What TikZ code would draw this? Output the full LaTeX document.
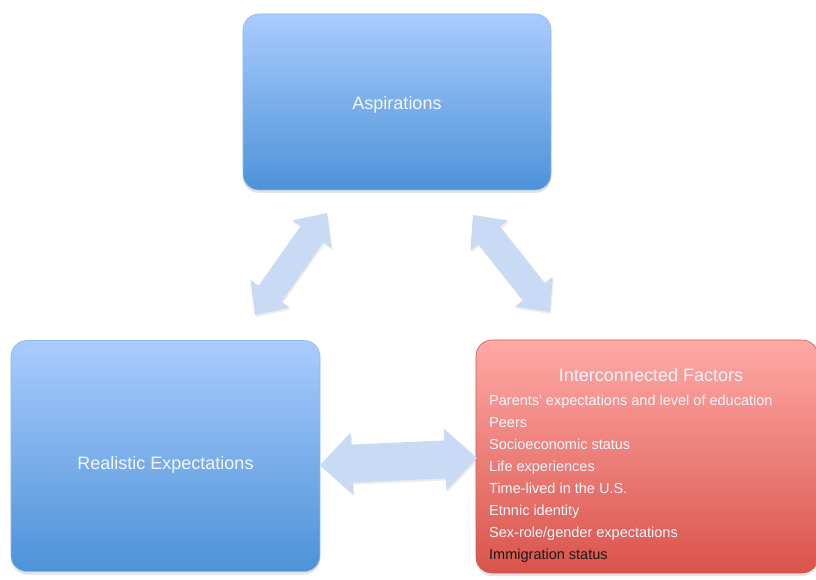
\documentclass[tikz,border=0pt]{standalone}
\usepackage{fontspec}
\setmainfont{Liberation Sans}
\usetikzlibrary{calc,shadows}
\definecolor{btop}{HTML}{A9CCFE}
\definecolor{bbot}{HTML}{4D92D8}
\definecolor{bedge}{HTML}{8DB6EC}
\definecolor{rtop}{HTML}{FFA9A6}
\definecolor{rbot}{HTML}{D9544B}
\definecolor{redge}{HTML}{C95B55}
\definecolor{arrfill}{HTML}{C8DAF4}
\definecolor{boxtext}{HTML}{F4F7FF}
\newcommand\blockarrow[5]{%
  \path ($(#1)!#5!(#2)$) coordinate (h1) ($(#2)!#5!(#1)$) coordinate (h2);
  \fill[arrowshape] (#1) -- ($(h1)!#4!90:(#2)$) -- ($(h1)!#3!90:(#2)$)
    -- ($(h2)!#3!-90:(#1)$) -- ($(h2)!#4!-90:(#1)$) -- (#2)
    -- ($(h2)!#4!90:(#1)$) -- ($(h2)!#3!90:(#1)$)
    -- ($(h1)!#3!-90:(#2)$) -- ($(h1)!#4!-90:(#2)$) -- cycle;}
\begin{document}
\begin{tikzpicture}[x=1pt,y=-1pt,
  boxbase/.style={rounded corners=16pt, line width=0.6pt, inner sep=0pt,
    drop shadow={opacity=0.22, shadow xshift=0pt, shadow yshift=-3pt}},
  bluebox/.style={boxbase, draw=bedge, top color=btop, bottom color=bbot},
  redbox/.style={boxbase, draw=redge, top color=rtop, bottom color=rbot},
  bigtext/.style={text=boxtext, font=\fontsize{18}{22}\selectfont, inner sep=0pt},
  item/.style={text=boxtext, font=\fontsize{14.5}{18}\selectfont, inner sep=0pt, anchor=base west},
  arrowshape/.style={fill=arrfill, drop shadow={opacity=0.15, shadow xshift=1pt, shadow yshift=-2pt}}]
\useasboundingbox (0,0) rectangle (816,580);
\fill[white] (0,0) rectangle (816,580);

% boxes
\node[bluebox, minimum width=308pt, minimum height=176pt] (asp) at (397,102) {};
\node[bluebox, minimum width=309pt, minimum height=231pt] (real) at (165.5,456) {};
\node[redbox, minimum width=342pt, minimum height=233pt] (fact) at (647,456.5) {};

% texts
\node[bigtext, anchor=base] (asptxt) at (397,109.5) {Aspirations};
\node[bigtext, anchor=base] (realtxt) at (165.5,469.5) {Realistic Expectations};
\node[bigtext, anchor=base] (facttxt) at (651,381.5) {Interconnected Factors};
\node[item] (f1) at (489,405) {Parents\textquotesingle\ expectations and level of education};
\node[item] (f2) at (489,427) {Peers};
\node[item] (f3) at (489,449) {Socioeconomic status};
\node[item] (f4) at (489,471) {Life experiences};
\node[item] (f5) at (489,493) {Time-lived in the U.S.};
\node[item] (f6) at (489,515) {Etnnic identity};
\node[item] (f7) at (489,537) {Sex-role/gender expectations};
\node[item, text=black!90] (f8) at (489,559) {Immigration status};

% connectors (double block arrows)
\coordinate (a1s) at (255,315);
\coordinate (a1e) at (327,213);
\coordinate (a2s) at (473,215);
\coordinate (a2e) at (550,312);
\coordinate (a3s) at (320,465);
\coordinate (a3e) at (477,458);
\blockarrow{a1s}{a1e}{14pt}{24pt}{26pt}
\blockarrow{a2s}{a2e}{14pt}{24pt}{26pt}
\blockarrow{a3s}{a3e}{19pt}{31pt}{32pt}
\end{tikzpicture}
\end{document}
